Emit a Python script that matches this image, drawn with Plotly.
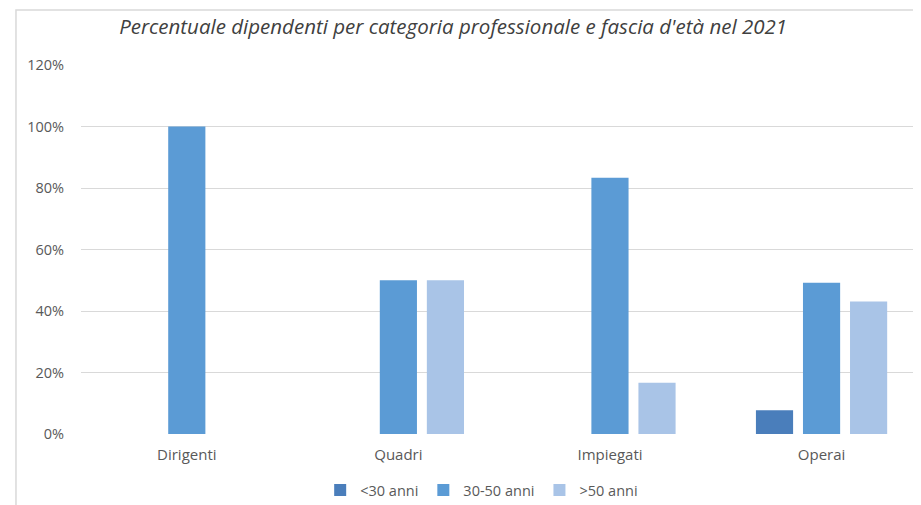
import plotly.graph_objects as go

categories = ["Dirigenti", "Quadri", "Impiegati", "Operai"]
series_names = ["<30 anni", "30-50 anni", ">50 anni"]
under30 = [0, 0, 0, 7.7]
age30_50 = [100, 50, 83.3, 49.2]
over50 = [0, 50, 16.7, 43.1]
colors = ["#4a7ebb", "#5b9bd5", "#a9c4e7"]
y_ticks = [0, 20, 40, 60, 80, 100, 120]
y_tick_labels = ["0%", "20%", "40%", "60%", "80%", "100%", "120%"]
title_text = "Percentuale dipendenti per categoria professionale e fascia d'età nel 2021"

fig = go.Figure()
for name, vals, col in zip(series_names, [under30, age30_50, over50], colors):
    fig.add_trace(go.Bar(x=categories, y=vals, name=name, marker=dict(color=col, line=dict(width=0))))

# the page body adds an 8px offset, so the figure is sized/placed to compensate
W, H = 913, 497
font_family = "Open Sans, Lato, sans-serif"
fig.update_layout(
    width=W, height=H,
    barmode="group", bargap=0.333, bargroupgap=0.21,
    paper_bgcolor="white", plot_bgcolor="white",
    margin=dict(l=73, r=0, t=57, b=71, autoexpand=False),
    title=dict(text="<i>" + title_text + "</i>", x=0.443, xref="paper", xanchor="center",
               y=1 - 19 / H, yanchor="middle", yref="container",
               font=dict(family=font_family, size=20.5, color="#404040")),
    xaxis=dict(range=[-0.5, 3.47], showgrid=False, showline=False, zeroline=False,
               automargin=False, ticklabelstandoff=10,
               tickfont=dict(family=font_family, size=15, color="#595959")),
    yaxis=dict(range=[0, 120], tickvals=y_ticks, ticktext=y_tick_labels,
               showgrid=True, gridcolor="#d9d9d9", gridwidth=1, zeroline=False,
               showline=False, ticklabelstandoff=16, automargin=False,
               tickfont=dict(family=font_family, size=14.5, color="#595959")),
    legend=dict(orientation="h", x=0.477, xanchor="center", y=1 - 482 / H, yanchor="middle",
                yref="container",
                font=dict(family=font_family, size=14.5, color="#595959"),
                itemwidth=30, traceorder="normal"),
    showlegend=True,
)

# chart frame (left and top borders)
fig.add_shape(type="path", xref="paper", yref="paper",
              path="M -0.0774,-0.2 L -0.0774,1.149 L 1.05,1.149",
              line=dict(color="#d9d9d9", width=1.5))

fig.write_html("out.html")
